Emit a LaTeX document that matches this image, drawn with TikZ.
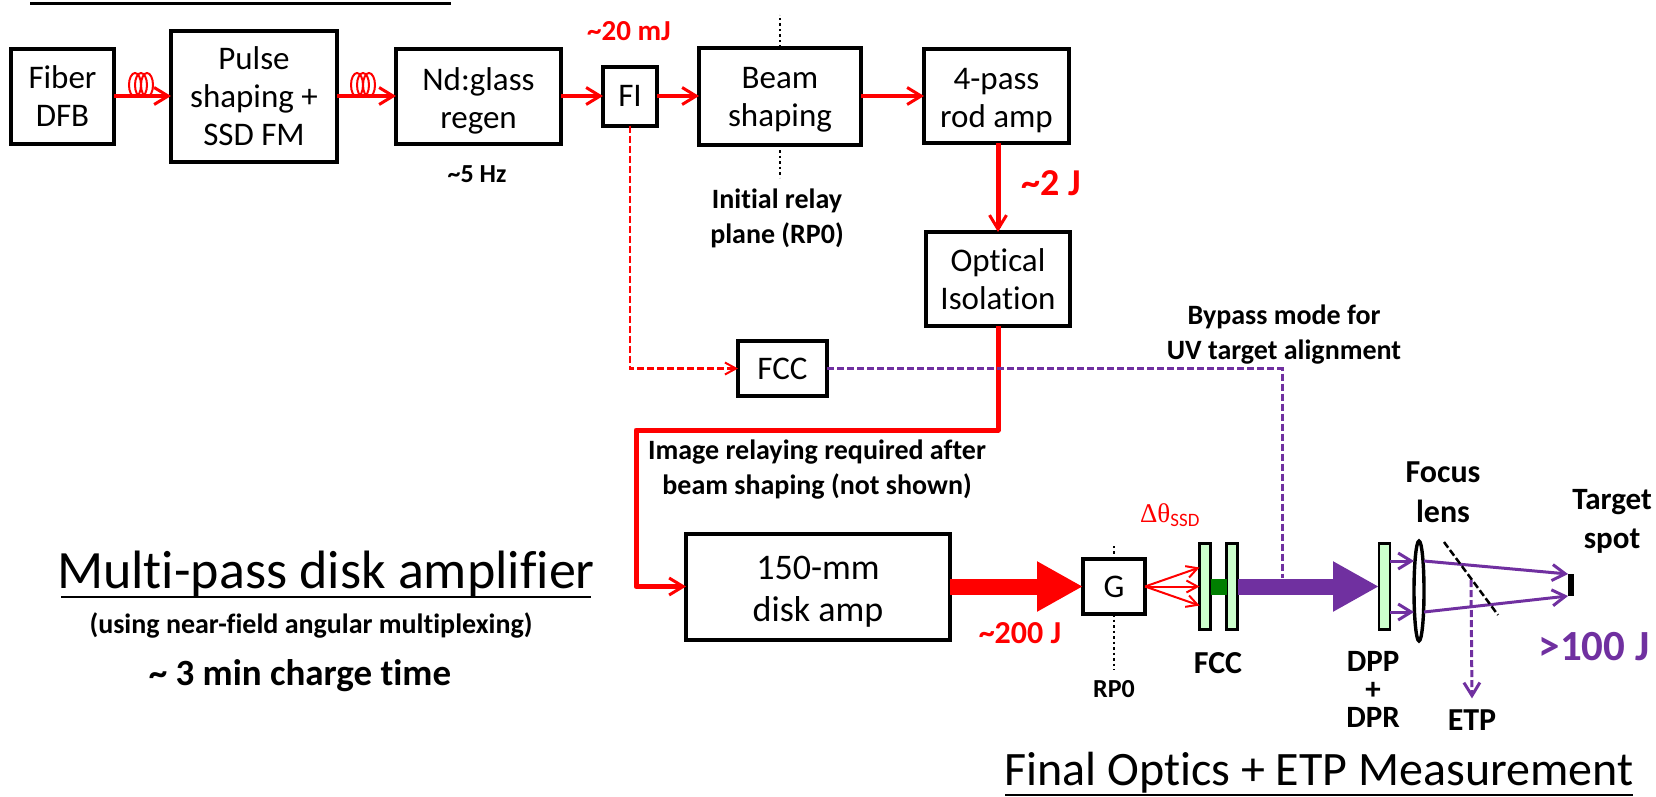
\documentclass[tikz,border=0pt]{standalone}
\usepackage{fontspec}
\setmainfont[Ligatures=NoCommon]{Carlito}
\newfontfamily\serifsym{Liberation Serif}
\usepackage{xcolor}
\usetikzlibrary{shapes.geometric,arrows.meta,positioning,calc}
\definecolor{beamred}{HTML}{FF0000}
\definecolor{uvpurple}{HTML}{7030A0}
\definecolor{plategreen}{HTML}{CCFFCC}
\definecolor{fccgreen}{HTML}{007F00}
\newcommand{\dropline}[1]{\rule{0pt}{#1pt}}

\begin{document}
\begin{tikzpicture}[
  x=1pt, y=-1pt,
  st/.style={draw=black, line width=4pt, inner sep=0pt, outer sep=0pt, align=center,
             font=\fontsize{33}{38}\selectfont},
  plate/.style={draw=black, fill=plategreen, line width=2.6pt, inner sep=0pt, outer sep=0pt,
                minimum width=11pt, minimum height=86pt},
  lab/.style={align=center, inner sep=0pt, font=\fontsize{28}{35}\selectfont\bfseries},
  redlab/.style={lab, text=beamred},
  arr/.style={-{Straight Barb[length=14pt,width=17pt,line width=3pt]}, draw=beamred, line width=3.5pt},
  beamline/.style={arr, line width=5pt, line join=round},
  thinarr/.style={-{Straight Barb[length=11pt,width=12pt,line width=2pt]}, draw=beamred, line width=2pt},
  purplearr/.style={-{Straight Barb[length=13pt,width=16pt,line width=3pt]}, draw=uvpurple, line width=3pt},
  dashred/.style={thinarr, dash pattern=on 7pt off 3pt, line width=2.6pt},
  dashpurple/.style={draw=uvpurple, line width=3pt, dash pattern=on 7pt off 3pt},
  relay/.style={draw=black, line width=2.5pt, dash pattern=on 2.5pt off 3pt},
  big/.style={-{Triangle[length=46pt,width=47pt]}, line width=16pt}
]
\useasboundingbox (0,0) rectangle (1656,796);

\coordinate (titlea) at (30,3);
\coordinate (titleb) at (451,3);
\draw[line width=3pt] (titlea) -- (titleb);

\node[st, minimum width=103pt, minimum height=95pt] (fiber) at (62.5,96) {Fiber\\DFB};
\node[st, minimum width=166pt, minimum height=131pt, right=57pt of fiber] (pulse) {Pulse\\shaping +\\SSD FM};
\node[st, minimum width=165pt, minimum height=95pt, right=59pt of pulse] (regen) {\dropline{32}Nd:glass\\regen};
\node[st, minimum width=54pt, minimum height=59pt, right=42pt of regen] (fi) {FI};
\node[st, minimum width=162pt, minimum height=97pt, right=42pt of fi] (shaping) {\dropline{29}Beam\\shaping};
\node[st, minimum width=145pt, minimum height=94pt, right=63pt of shaping] (rod) {\dropline{31}4-pass\\rod amp};
\node[st, minimum width=144pt, minimum height=94pt, below=89pt of rod, xshift=1.5pt] (iso) {Optical\\Isolation};
\node[st, minimum width=89pt, minimum height=55pt] (fcc) at (782.5,368.5) {FCC};
\node[st, minimum width=264pt, minimum height=106pt, font=\fontsize{36}{42}\selectfont] (disk) at (818,586.5) {\dropline{34}150-mm\\disk amp};
\node[st, minimum width=62pt, minimum height=55pt, right=133pt of disk] (g) {G};

\node[plate, right=54.5pt of g] (fcca) {};
\node[plate, right=16pt of fcca] (fccb) {};
\node[plate, right=141.5pt of fccb] (dpp) {};
\node[draw=black, line width=3.4pt, ellipse, inner sep=0pt, outer sep=0pt, minimum width=10pt, minimum height=100pt] (lens) at (1419,591) {};
\node[fill=black, inner sep=0pt, outer sep=0pt, minimum width=6pt, minimum height=22pt] (target) at (1571,585) {};

\foreach \i/\j in {fiber/pulse,pulse/regen,regen/fi,fi/shaping,shaping/rod} \draw[arr] (\i) -- (\j);
\foreach \cx/\cy in {135/85,141/85,147/85,357/85,363/85,369/85}
  \draw[beamred, line width=2pt] (\cx,\cy) ellipse (6pt and 12pt);

\draw[beamline] (iso.north |- rod.south) -- (iso.north);
\coordinate (bend) at (636,430);
\draw[beamline] (iso.south) |- (bend) |- (disk.west);
\draw[dashred] (fi.south) |- (fcc.west);
\coordinate (bypass) at (1282,578);
\draw[dashpurple] (fcc.east) -| (bypass);

\draw[big, draw=beamred, fill=beamred] (disk.east) -- (g.west);
\foreach \dy in {-19,0,19} \draw[thinarr] (g.east) -- ([yshift=\dy pt]fcca.west);
\draw[fccgreen, line width=16pt] (fcca.east) -- (fccb.west);
\draw[big, draw=uvpurple, fill=uvpurple] (fccb.east) -- (dpp.west);

\coordinate (upper) at (1419,561);
\coordinate (lower) at (1419,612);
\draw[purplearr] (dpp.east |- upper) -- (lens.west |- upper);
\draw[purplearr] (dpp.east |- lower) -- (lens.west |- lower);
\draw[purplearr] (lens.east |- upper) -- (target.north west);
\draw[purplearr] (lens.east |- lower) -- (target.south west);

\coordinate (mirrora) at (1444,542);
\coordinate (mirrorb) at (1498,615);
\draw[draw=black, line width=2.5pt, dash pattern=on 7pt off 3pt] (mirrora) -- (mirrorb);
\coordinate (tap) at (1471,580);
\node[lab, font=\fontsize{32}{38}\selectfont\bfseries] (etp) at (1472,720) {ETP};
\draw[purplearr, dash pattern=on 7pt off 3pt] (tap) -- ([yshift=11pt]etp.north);

\coordinate[above=33pt of shaping] (shapingtop);
\coordinate[below=33pt of shaping] (shapingbot);
\draw[relay] (shaping.north) -- (shapingtop);
\draw[relay] (shaping.south) -- (shapingbot);
\coordinate[above=15pt of g] (gtop);
\coordinate[below=56pt of g] (gbot);
\draw[relay] (g.north) -- (gtop);
\draw[relay] (g.south) -- (gbot);

\node[lab, font=\fontsize{26}{30}\selectfont\bfseries] (hz) at (477,174) {\textasciitilde5 Hz};
\node[redlab, font=\fontsize{29}{34}\selectfont\bfseries] (mj) at (629,31) {\textasciitilde20 mJ};
\node[lab] (relaytxt) at (777,218) {Initial relay\\plane (RP0)};
\node[redlab, font=\fontsize{38}{44}\selectfont\bfseries] (twoj) at (1051,183) {\textasciitilde2 J};
\node[lab] (bypasstxt) at (1284,335) {Bypass mode for\\UV target alignment};
\node[lab] (imgtxt) at (817,470) {Image relaying required after\\beam shaping (not shown)};
\node[redlab, font=\fontsize{32}{38}\selectfont\bfseries] (twohundred) at (1020,633) {\textasciitilde200 J};
\node[inner sep=0pt, text=beamred, font=\fontsize{27}{33}\selectfont] (dtheta) at (1170,515) {{\serifsym Δθ}\textsubscript{SSD}};
\node[lab, font=\fontsize{32}{38}\selectfont\bfseries] (fcclab) at (1218,663) {FCC};
\node[lab, font=\fontsize{26}{30}\selectfont\bfseries] (rp) at (1114,689) {RP0};
\node[lab, font=\fontsize{31}{28}\selectfont\bfseries] (dpplab) at (1373,689) {DPP\\+\\DPR};
\node[lab, font=\fontsize{32}{40}\selectfont\bfseries] (focus) at (1443,492) {Focus\\lens};
\node[lab, font=\fontsize{31}{39}\selectfont\bfseries] (spot) at (1612,521) {Target\\spot};
\node[lab, text=uvpurple, font=\fontsize{43}{50}\selectfont\bfseries] (hundred) at (1594,647) {>100 J};

\node[inner sep=0pt, font=\fontsize{54}{64}\selectfont] (multi) at (326,574) {Multi-pass disk amplifier};
\coordinate (multia) at (61,597);
\coordinate (multib) at (591,597);
\draw[line width=2.5pt] (multia) -- (multib);
\node[lab] (usinglab) at (311,625) {(using near-field angular multiplexing)};
\node[lab, font=\fontsize{37}{44}\selectfont\bfseries] (charge) at (300,676) {\textasciitilde{} 3 min charge time};
\node[inner sep=0pt, font=\fontsize{48}{56}\selectfont] (finaltxt) at (1319,773) {Final Optics + ETP Measurement};
\coordinate (finala) at (1005,795);
\coordinate (finalb) at (1633,795);
\draw[line width=2pt] (finala) -- (finalb);
\end{tikzpicture}
\end{document}
